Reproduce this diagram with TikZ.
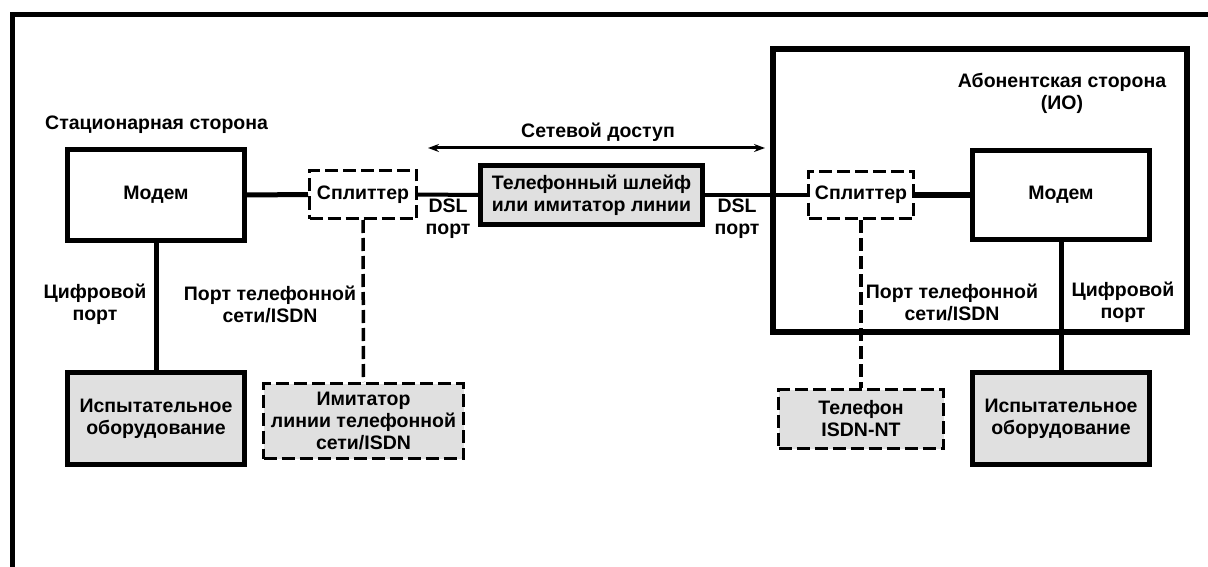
\documentclass[tikz,border=0pt]{standalone}
\usepackage{fontspec}
\setmainfont{Liberation Sans}
\usetikzlibrary{arrows.meta}
\definecolor{boxgray}{RGB}{224,224,224}
\tikzset{
  every node/.style={font=\bfseries\fontsize{19.5}{22}\selectfont, inner sep=0pt},
  solidbox/.style={draw, line width=5pt, fill=white, align=center},
  graybox/.style={solidbox, fill=boxgray},
  dashbox/.style={draw, line width=3pt, dash pattern=on 13pt off 5pt, fill=white, align=center},
  dashgray/.style={dashbox, fill=boxgray},
  thickline/.style={line width=5pt},
  dashline/.style={line width=3.5pt, dash pattern=on 13pt off 5pt},
  lbl/.style={align=center},
}
\begin{document}
\begin{tikzpicture}[x=1pt,y=-1pt]
\useasboundingbox (0,0) rectangle (1208,567);
% outer frame (cropped)
\draw[line width=5pt] (12,567) -- (12,15) -- (1208,15);
% right big box
\draw[line width=6pt] (773,49) rectangle (1187,332);

% left side
\node[lbl, anchor=west] (stat) at (45,125) {Стационарная сторона};
\node[solidbox, minimum width=177pt, minimum height=91pt] (lmodem) at (156,195) {Модем};
\node[dashbox, minimum width=107pt, minimum height=48pt] (lsplit) at (363,194.5) {Сплиттер};
\node[graybox, minimum width=177pt, minimum height=92pt] (ltest) at (156,418.5) {Испытательное\\оборудование};
\node[dashgray, minimum width=200pt, minimum height=75pt] (limit) at (363.5,421) {Имитатор\\линии телефонной\\сети/ISDN};
\node[lbl] (ldig) at (95,304) {Цифровой\\порт};
\node[lbl] (lport) at (270,304) {Порт телефонной\\сети/ISDN};

% middle
\node[lbl] (net) at (598,132) {Сетевой доступ};
\coordinate (arL) at (428,148);
\coordinate (arR) at (765,148);
\draw[line width=3pt, {Stealth[length=11pt,width=8pt]}-{Stealth[length=11pt,width=8pt]}] (arL) -- (arR);
\node[graybox, minimum width=222pt, minimum height=59pt] (loop) at (591.5,195) {Телефонный шлейф\\или имитатор линии};
\node[lbl] (dslL) at (448,219) {DSL\\порт};
\node[lbl] (dslR) at (737,219) {DSL\\порт};

% right side
\node[lbl] (abon) at (1062,93) {Абонентская сторона\\(ИО)};
\node[dashbox, minimum width=105pt, minimum height=47pt] (rsplit) at (861,195) {Сплиттер};
\node[solidbox, minimum width=177pt, minimum height=89pt] (rmodem) at (1061,195) {Модем};
\node[dashgray, minimum width=165pt, minimum height=59pt] (phone) at (861,419) {Телефон\\ISDN-NT};
\node[graybox, minimum width=177pt, minimum height=92pt] (rtest) at (1061,418.5) {Испытательное\\оборудование};
\node[lbl] (rport) at (952,302) {Порт телефонной\\сети/ISDN};
\node[lbl] (rdig) at (1123,302) {Цифровой\\порт};

% connectors
\draw[thickline] (lmodem.east) -- (lsplit.west);
\draw[line width=4pt] (lsplit.east) -- (loop.west);
\draw[line width=4pt] (loop.east) -- (rsplit.west);
\draw[thickline] (rsplit.east) -- (rmodem.west);
\draw[thickline] (lmodem.south) -- (ltest.north);
\draw[thickline] (rmodem.south) -- (rtest.north);
\draw[dashline] (lsplit.south) -- (limit.north);
\draw[dashline] (rsplit.south) -- (phone.north);
\end{tikzpicture}
\end{document}
